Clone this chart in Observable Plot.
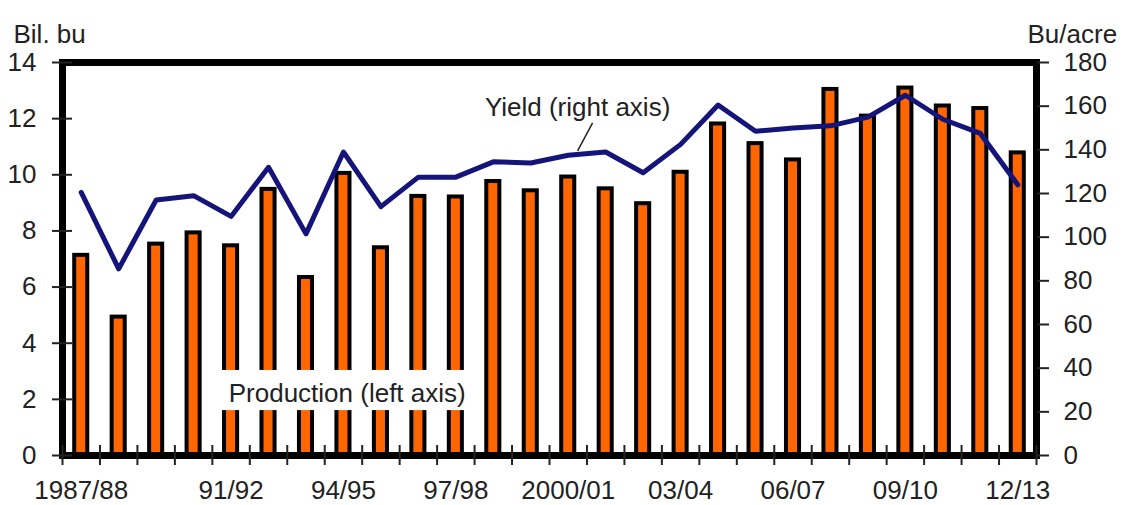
<!DOCTYPE html>
<html><head><meta charset="utf-8">
<script src="https://cdn.jsdelivr.net/npm/d3@7"></script>
<script src="https://cdn.jsdelivr.net/npm/@observablehq/plot@0.6"></script>
<style>body{margin:0;background:#fff}</style>
</head><body><div id="chart"></div>
<script>
const years = ["1987/88","1988/89","1989/90","1990/91","1991/92","1992/93","1993/94","1994/95","1995/96","1996/97","1997/98","1998/99","1999/00","2000/01","2001/02","2002/03","2003/04","2004/05","2005/06","2006/07","2007/08","2008/09","2009/10","2010/11","2011/12","2012/13"];
const production = [7.13,4.93,7.53,7.93,7.47,9.48,6.34,10.05,7.40,9.23,9.21,9.76,9.43,9.92,9.50,8.97,10.09,11.81,11.11,10.53,13.04,12.09,13.09,12.45,12.36,10.78];
const yieldBu = [120.5,85.5,117,119,109.5,132,101.5,139,114,127.5,127.5,134.5,134,137.5,139,129.5,142.5,160.5,148.5,150,151,155,165,154,147.5,124];
const labelYears = ["1987/88","1991/92","1994/95","1997/98","2000/01","2003/04","2006/07","2009/10","2012/13"];
const labelTexts = ["1987/88","91/92","94/95","97/98","2000/01","03/04","06/07","09/10","12/13"];
const leftTicks = [0,2,4,6,8,10,12,14];
const rightTicks = [0,20,40,60,80,100,120,140,160,180];

const leftMax = 14, rightMax = 180;
const k = leftMax / rightMax;
const rows = years.map((y, i) => ({i, year: y, production: production[i], yield: yieldBu[i]}));
const boundaries = d3.range(0, years.length + 1);
const labelPos = labelYears.map(y => years.indexOf(y) + 0.5);
const labelFor = new Map(labelPos.map((p, j) => [p, labelTexts[j]]));

const font = "'Liberation Sans', Arial, sans-serif";
const txt = "#222";

const chart = Plot.plot({
  width: 1132,
  height: 505,
  marginLeft: 62,
  marginRight: 96,
  marginTop: 62,
  marginBottom: 50,
  style: {fontFamily: font, fontSize: "26px", color: txt, background: "#fff"},
  x: {domain: [0, years.length]},
  y: {domain: [0, leftMax]},
  marks: [
    Plot.rectY(rows, {x1: d => d.i, x2: d => d.i + 1, y: "production", fill: "#ff6600", stroke: "#000", strokeWidth: 4, insetLeft: 12.2, insetRight: 12.2}),
    Plot.rect([0], {x1: 4.0, x2: 10.95, y1: 1.6, y2: 3.03, fill: "#fff"}),
    Plot.text(["Production (left axis)"], {x: 7.6, y: 2.2, text: d => d, fill: txt, fontSize: 26}),
    Plot.line(rows, {x: d => d.i + 0.5, y: d => d.yield * k, stroke: "#14147a", strokeWidth: 5, strokeLinejoin: "round"}),
    Plot.link([0], {x1: 14.15, y1: 11.85, x2: 13.75, y2: 10.85, stroke: "#222", strokeWidth: 1.5}),
    Plot.text(["Yield (right axis)"], {x: 13.75, y: 12.4, text: d => d, fill: txt, fontSize: 26}),
    Plot.frame({stroke: "#000", strokeWidth: 7}),
    Plot.axisY({anchor: "left", ticks: leftTicks, tickSize: 20, dx: 10, tickPadding: 16, strokeWidth: 2, label: null, fontSize: 26, fill: txt}),
    Plot.axisY({anchor: "right", ticks: rightTicks.map(v => v * k), tickFormat: d => Math.round(d / k), tickSize: 12, tickPadding: 15, strokeWidth: 2, label: null, fontSize: 26, fill: txt}),
    Plot.axisX({ticks: boundaries, tickSize: 20, dy: -10, tickFormat: () => "", strokeWidth: 2, label: null}),
    Plot.axisX({ticks: labelPos, tickSize: 0, tickPadding: 25, tickFormat: d => labelFor.get(d) ?? "", label: null, fontSize: 26, fill: txt}),
    Plot.text(["Bil. bu"], {frameAnchor: "top-left", dx: -49, dy: -38, textAnchor: "start", text: d => d, fill: txt, fontSize: 26}),
    Plot.text(["Bu/acre"], {frameAnchor: "top-right", dx: -9, dy: -38, textAnchor: "start", text: d => d, fill: txt, fontSize: 26})
  ]
});
document.getElementById("chart").appendChild(chart);
</script>
</body></html>
